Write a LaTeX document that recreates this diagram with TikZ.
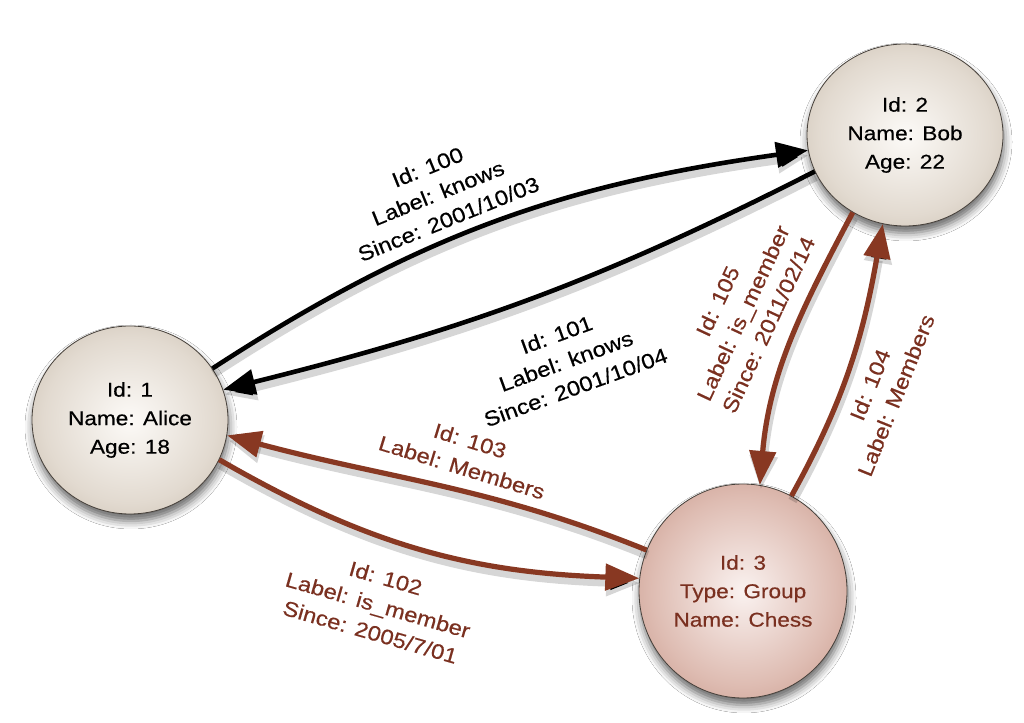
\documentclass[tikz,border=0pt]{standalone}
\usepackage{fontspec}
\setmainfont{Liberation Sans}[FakeStretch=1.13,FakeBold=0.4]
\usetikzlibrary{arrows.meta,shapes.geometric,shadows.blur}
\definecolor{edgebrown}{RGB}{136,56,34}
\definecolor{textbrown}{RGB}{122,48,32}
\definecolor{rim}{RGB}{70,64,58}
\definecolor{tanA}{RGB}{252,250,247}
\definecolor{tanB}{RGB}{226,218,208}
\definecolor{tanC}{RGB}{190,177,160}
\definecolor{tanD}{RGB}{158,142,122}
\definecolor{roseA}{RGB}{250,242,240}
\definecolor{roseB}{RGB}{222,188,178}
\definecolor{roseC}{RGB}{190,136,120}
\definecolor{roseD}{RGB}{160,98,80}
\pgfdeclareradialshading{tanball}{\pgfpoint{0bp}{0bp}}{color(0bp)=(tanA); color(22bp)=(tanB); color(40bp)=(tanC); color(50bp)=(tanD); color(60bp)=(tanD)}
\pgfdeclareradialshading{roseball}{\pgfpoint{0bp}{0bp}}{color(0bp)=(roseA); color(22bp)=(roseB); color(40bp)=(roseC); color(50bp)=(roseD); color(60bp)=(roseD)}
\tikzset{
  ball/.style={ellipse, draw=rim, line width=0.8pt, inner sep=0pt, align=center,
    font=\fontsize{20}{28.5}\selectfont,
    blur shadow={shadow xshift=1pt, shadow yshift=-7pt, shadow blur radius=8pt, shadow opacity=60}},
  personball/.style={ball, shading=tanball, text=black},
  groupball/.style={ball, shading=roseball, text=textbrown},
  eshadow/.style={preaction={draw=black, draw opacity=0.16, line width=9pt,
    transform canvas={shift={(1pt,-5pt)}}}},
  blackedge/.style={eshadow, draw=black, line width=4.6pt, -{Triangle[length=32pt,width=25pt]}},
  brownedge/.style={eshadow, draw=edgebrown, line width=5.2pt, -{Triangle[length=34pt,width=26pt]}},
  lab/.style={align=center, inner sep=0pt, font=\fontsize{21}{28}\selectfont},
  blacklab/.style={lab, text=black},
  brownlab/.style={lab, text=textbrown}
}
\begin{document}
\begin{tikzpicture}[x=1pt,y=1pt]
\fill[white] (0,0) rectangle (1024,722);
\useasboundingbox (0,0) rectangle (1024,722);

% nodes
\node[personball, minimum width=196pt, minimum height=188pt] (alice) at (130,302) {Id: 1\\Name: Alice\\Age: 18};
\node[personball, minimum width=196pt, minimum height=182pt] (bob) at (905,587) {Id: 2\\Name: Bob\\Age: 22};
\node[groupball, minimum width=208pt, minimum height=214pt] (chess) at (743,131) {Id: 3\\Type: Group\\Name: Chess};

% edges
\draw[blackedge] (alice.32) to[out=33,in=188] (bob.189);
\draw[blackedge] (bob.202) to[out=207,in=14] (alice.18);
\draw[brownedge] (chess.157) to[out=158,in=-15] (alice.-9);
\draw[brownedge] (alice.-24) to[out=-30,in=178] (chess.173);
\draw[brownedge] (bob.236) to[out=242,in=85] (chess.81);
\draw[brownedge] (chess.63) to[out=61,in=260] (bob.256);

% labels
\node[blacklab, rotate=22] (l100) at (438,529) {Id: 100\\Label: knows\\Since: 2001/10/03};
\node[blacklab, rotate=20] (l101) at (566,361) {Id: 101\\Label: knows\\Since: 2001/10/04};
\node[brownlab, rotate=-17] (l103) at (466,268) {Id: 103\\Label: Members};
\node[brownlab, rotate=-16] (l102) at (378,117) {Id: 102\\Label: is\_member\\Since: 2005/7/01};
\node[brownlab, rotate=65] (l105) at (743,409) {Id: 105\\Label: is\_member\\Since: 2011/02/14};
\node[brownlab, rotate=68] (l104) at (883,332) {Id: 104\\Label: Members};
\end{tikzpicture}
\end{document}
